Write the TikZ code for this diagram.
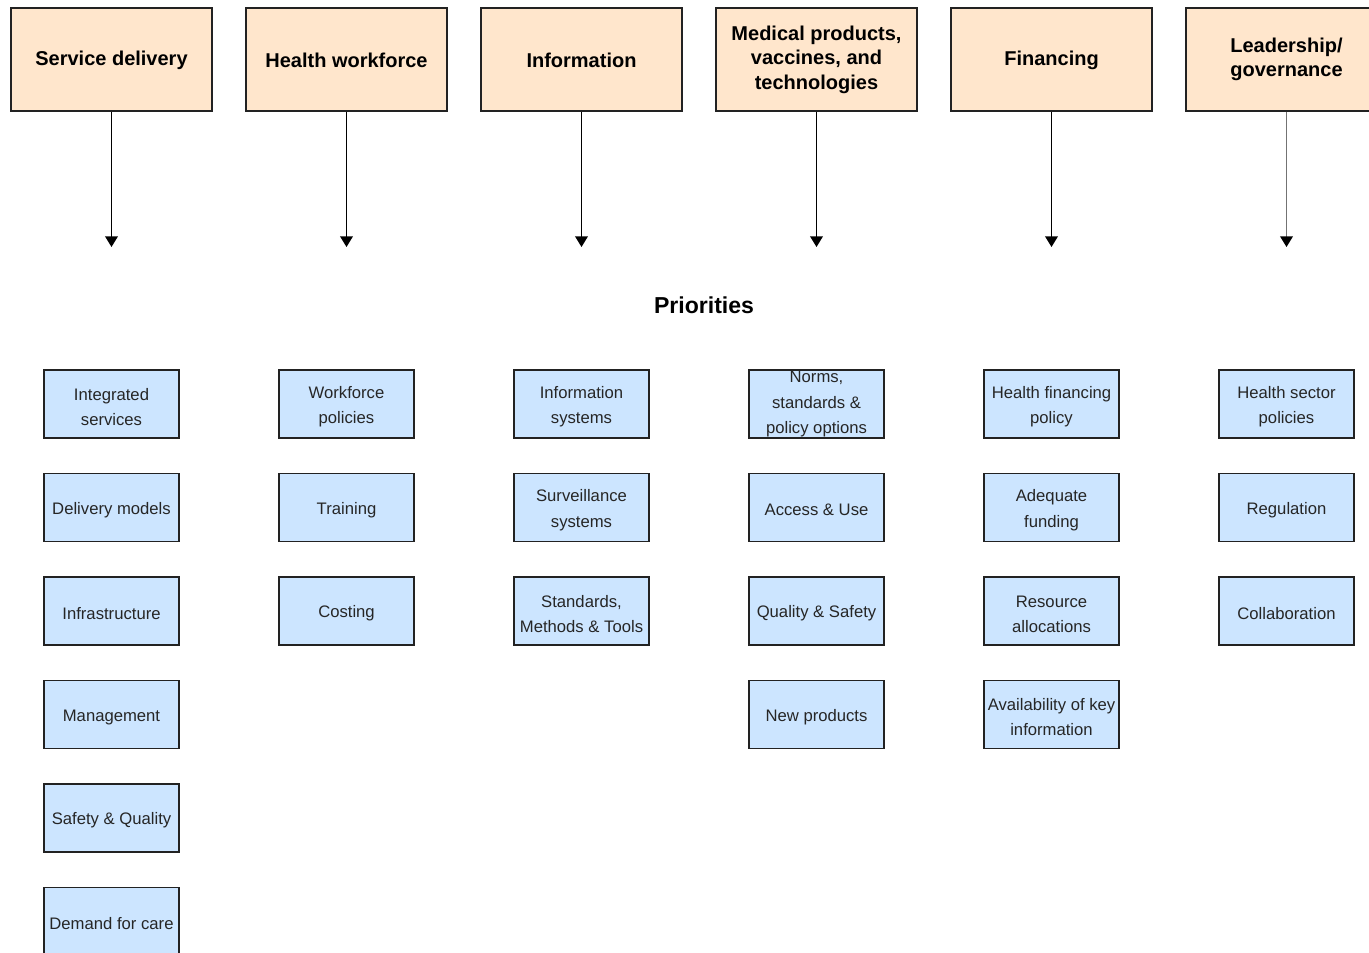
\documentclass[tikz,border=0pt]{standalone}
\usepackage{fontspec}
\setmainfont{Liberation Sans}
\usetikzlibrary{arrows.meta}
\definecolor{topfill}{HTML}{FFE6CC}
\definecolor{subfill}{HTML}{CCE5FF}
\definecolor{edge}{HTML}{222222}
\newcommand{\tallstrut}{\rule{0pt}{13.3pt}}
\begin{document}
\begin{tikzpicture}[x=0.75pt,y=-0.75pt,
  pillar/.style={draw=edge,line width=1.1pt,fill=topfill,minimum width=150.75pt,minimum height=77.25pt,
    align=center,inner sep=0pt,font=\fontsize{15pt}{18.4pt}\selectfont\bfseries,
    execute at begin node={\rule{0pt}{12.5pt}}},
  prio/.style={draw=edge,line width=1.1pt,fill=subfill,minimum width=101.25pt,minimum height=51pt,
    align=center,inner sep=0pt,font=\fontsize{12.5pt}{19pt}\selectfont,text=black!85,
    execute at begin node={\rule{0pt}{12.5pt}}},
  link/.style={line width=1.1pt,-{Triangle[width=9.5pt,length=8pt,color=black]}},
  head/.style={font=\fontsize{17.3pt}{20pt}\selectfont\bfseries}]
\useasboundingbox (0,0) rectangle (1369,952);
\fill[white] (0,0) rectangle (1369,952);
\clip (0,0) rectangle (1369,952);
% top pillars
\node[pillar] (p1) at (111.5,59.5) {Service delivery};
\node[pillar] (p2) at (346.5,59.5) {Health workforce};
\node[pillar] (p3) at (581.5,59.5) {Information};
\node[pillar] (p4) at (816.5,59.5) {Medical products,\\vaccines, and\\technologies};
\node[pillar] (p5) at (1051.5,59.5) {Financing};
\node[pillar] (p6) at (1286.5,59.5) {Leadership/\\governance};
% arrow ends
\coordinate (e1) at (111.5,247);
\coordinate (e2) at (346.5,247);
\coordinate (e3) at (581.5,247);
\coordinate (e4) at (816.5,247);
\coordinate (e5) at (1051.5,247);
\coordinate (e6) at (1286.5,247);
\draw[link] (p1.south) -- (e1);
\draw[link] (p2.south) -- (e2);
\draw[link] (p3.south) -- (e3);
\draw[link] (p4.south) -- (e4);
\draw[link] (p5.south) -- (e5);
\draw[link,draw=black!55] (p6.south) -- (e6);
% heading
\node[head] (pri) at (704,305) {Priorities};
% column 1
\node[prio] (s1) at (111.5,404) {\tallstrut Integrated\\services};
\node[prio] (s2) at (111.5,507.5) {Delivery models};
\node[prio] (s3) at (111.5,611) {Infrastructure};
\node[prio] (s4) at (111.5,714.5) {Management};
\node[prio] (s5) at (111.5,818) {Safety \& Quality};
\node[prio] (s6) at (111.5,921.5) {Demand for care};
% column 2
\node[prio] (w1) at (346.5,404) {\tallstrut Workforce\\policies};
\node[prio] (w2) at (346.5,507.5) {Training};
\node[prio] (w3) at (346.5,611) {Costing};
% column 3
\node[prio] (i1) at (581.5,404) {\tallstrut Information\\systems};
\node[prio] (i2) at (581.5,507.5) {\tallstrut Surveillance\\systems};
\node[prio] (i3) at (581.5,611) {\tallstrut Standards,\\Methods \& Tools};
% column 4
\node[prio] (m1) at (816.5,404) {Norms,\\standards \&\\policy options};
\node[prio] (m2) at (816.5,507.5) {Access \& Use};
\node[prio] (m3) at (816.5,611) {Quality \& Safety};
\node[prio] (m4) at (816.5,714.5) {New products};
% column 5
\node[prio] (f1) at (1051.5,404) {\tallstrut Health financing\\policy};
\node[prio] (f2) at (1051.5,507.5) {\tallstrut Adequate\\funding};
\node[prio] (f3) at (1051.5,611) {\tallstrut Resource\\allocations};
\node[prio] (f4) at (1051.5,714.5) {\tallstrut Availability of key\\information};
% column 6
\node[prio] (g1) at (1286.5,404) {\tallstrut Health sector\\policies};
\node[prio] (g2) at (1286.5,507.5) {Regulation};
\node[prio] (g3) at (1286.5,611) {Collaboration};
\end{tikzpicture}
\end{document}
